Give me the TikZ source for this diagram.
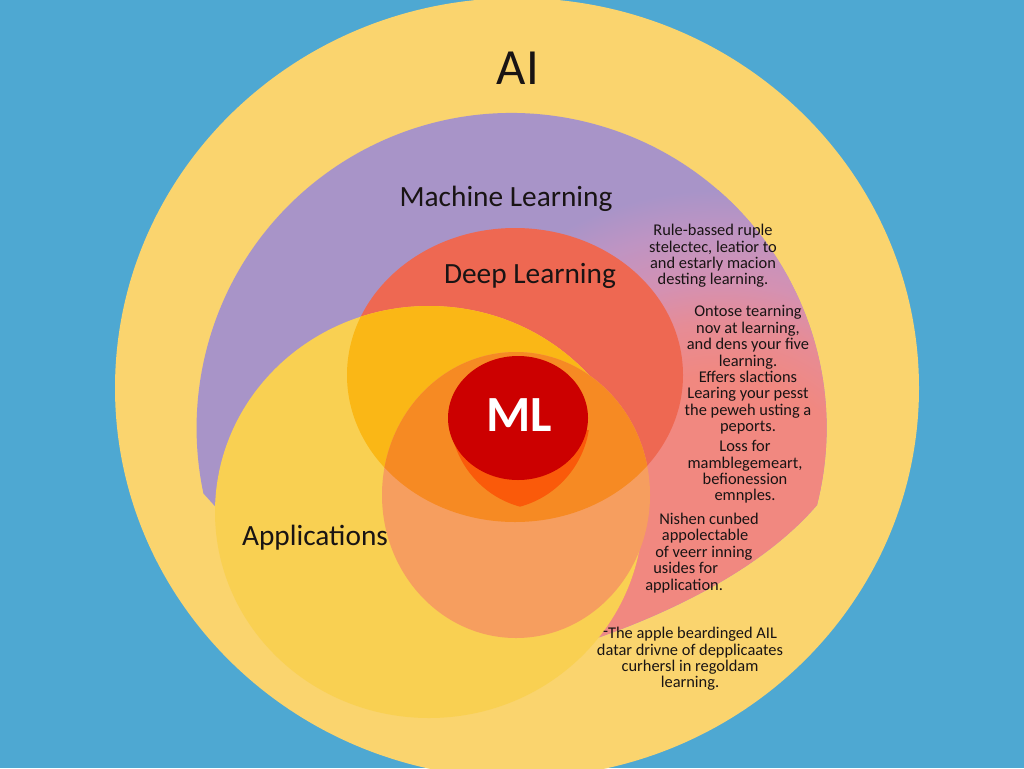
\documentclass[tikz,border=0pt]{standalone}
\usepackage{fontspec}
\setmainfont{Carlito}
\definecolor{bgblue}{RGB}{78,168,210}
\definecolor{aiyellow}{RGB}{250,212,110}
\definecolor{mlpurple}{RGB}{168,148,200}
\definecolor{mlmauveA}{RGB}{190,148,195}
\definecolor{mlmauve}{RGB}{212,145,178}
\definecolor{mlmauveB}{RGB}{230,140,150}
\definecolor{mlpink}{RGB}{241,136,128}
\definecolor{dlred}{RGB}{238,104,82}
\definecolor{appyellow}{RGB}{249,208,82}
\definecolor{appdl}{RGB}{250,183,22}
\definecolor{lowpeach}{RGB}{246,158,95}
\definecolor{lowdl}{RGB}{246,138,35}
\definecolor{lenscol}{RGB}{250,90,10}
\definecolor{mlred}{RGB}{204,0,0}
\definecolor{txt}{RGB}{25,20,20}
\pgfdeclareradialshading{mlrad}{\pgfpoint{0bp}{0bp}}{color(0bp)=(mlpink); color(11bp)=(mlpink); color(15bp)=(mlmauveB); color(18bp)=(mlmauve); color(22bp)=(mlmauveA); color(25bp)=(mlpurple); color(50bp)=(mlpurple)}
\tikzset{
  biglabel/.style={font=\fontsize{22}{26}\selectfont, text=txt, inner sep=0pt},
  ailabel/.style={font=\fontsize{38}{44}\selectfont, text=txt, inner sep=0pt},
  corelabel/.style={font=\bfseries\fontsize{38}{44}\selectfont, text=white, inner sep=0pt},
  note/.style={font=\fontsize{12.3}{12.3}\selectfont, text=txt, align=center, inner sep=0pt},
  noteleft/.style={font=\fontsize{12.3}{12.3}\selectfont, text=txt, align=left, inner sep=0pt}
}
\begin{document}
\begin{tikzpicture}[x=0.75pt,y=-0.75pt]
\useasboundingbox (0,0) rectangle (1024,768);
\fill[bgblue] (0,0) rectangle (1024,768);
% AI circle
\fill[aiyellow] (517,388) ellipse [x radius=402, y radius=390];
% Machine learning shape (purple, turning pink towards lower right)
\begin{scope}
  \clip (817,505) arc[start angle=14.15, end angle=-192, radius=315]
     -- (300,600) -- (520,655) -- (600,637)
     .. controls (690,605) and (770,560) .. cycle;
  \fill[mlpurple] (0,0) rectangle (1024,768);
  \shade[shading=mlrad] (720,520) circle [radius=330];
\end{scope}
% Deep learning
\fill[dlred] (515,375) ellipse [x radius=168, y radius=147];
% Applications
\fill[appyellow] (429,512) ellipse [x radius=214, y radius=206];
\begin{scope}
  \clip (515,375) ellipse [x radius=168, y radius=147];
  \fill[appdl] (429,512) ellipse [x radius=214, y radius=206];
\end{scope}
% lower circle
\fill[lowpeach] (516,495) ellipse [x radius=134, y radius=143];
\begin{scope}
  \clip (515,375) ellipse [x radius=168, y radius=147];
  \fill[lowdl] (516,495) ellipse [x radius=134, y radius=143];
\end{scope}
% lens below the core
\begin{scope}
  \clip (0,430) rectangle (1024,768);
  \clip (545,415) circle [radius=95];
  \fill[lenscol] (495,415) circle [radius=95];
\end{scope}
% ML core
\fill[mlred] (518,418) ellipse [x radius=70, y radius=62];

% labels
\node[ailabel] (ai) at (518,68) {AI};
\node[biglabel] (mllabel) at (506,199) {Machine Learning};
\node[biglabel] (dllabel) at (530,276) {Deep Learning};
\node[biglabel] (applabel) at (315,538) {Applications};
\node[corelabel] (core) at (519,415) {ML};

\node[note] (n1) at (713,256) {Rule-bassed ruple\\stelectec, leatior to\\and estarly macion\\desting learning.};
\node[note] (n2) at (748,370) {Ontose tearning\\nov at learning,\\and dens your five\\learning.\\Effers slactions\\Learing your pesst\\the peweh usting a\\peports.};
\node[note] (n3) at (745,472) {Loss for\\mamblegemeart,\\befionession\\emnples.};
\node[noteleft, anchor=west] (n4) at (645,553) {\hspace*{10.5pt}Nishen cunbed\\\hspace*{12.5pt}appolectable\\\hspace*{7.5pt}of veerr inning\\\hspace*{6pt}usides for\\application.};
\node[note] (n5) at (690,659) {\raisebox{0.25ex}{-}The apple beardinged AIL\\datar drivne of depplicaates\\curhersl in regoldam\\learning.};
\end{tikzpicture}
\end{document}
